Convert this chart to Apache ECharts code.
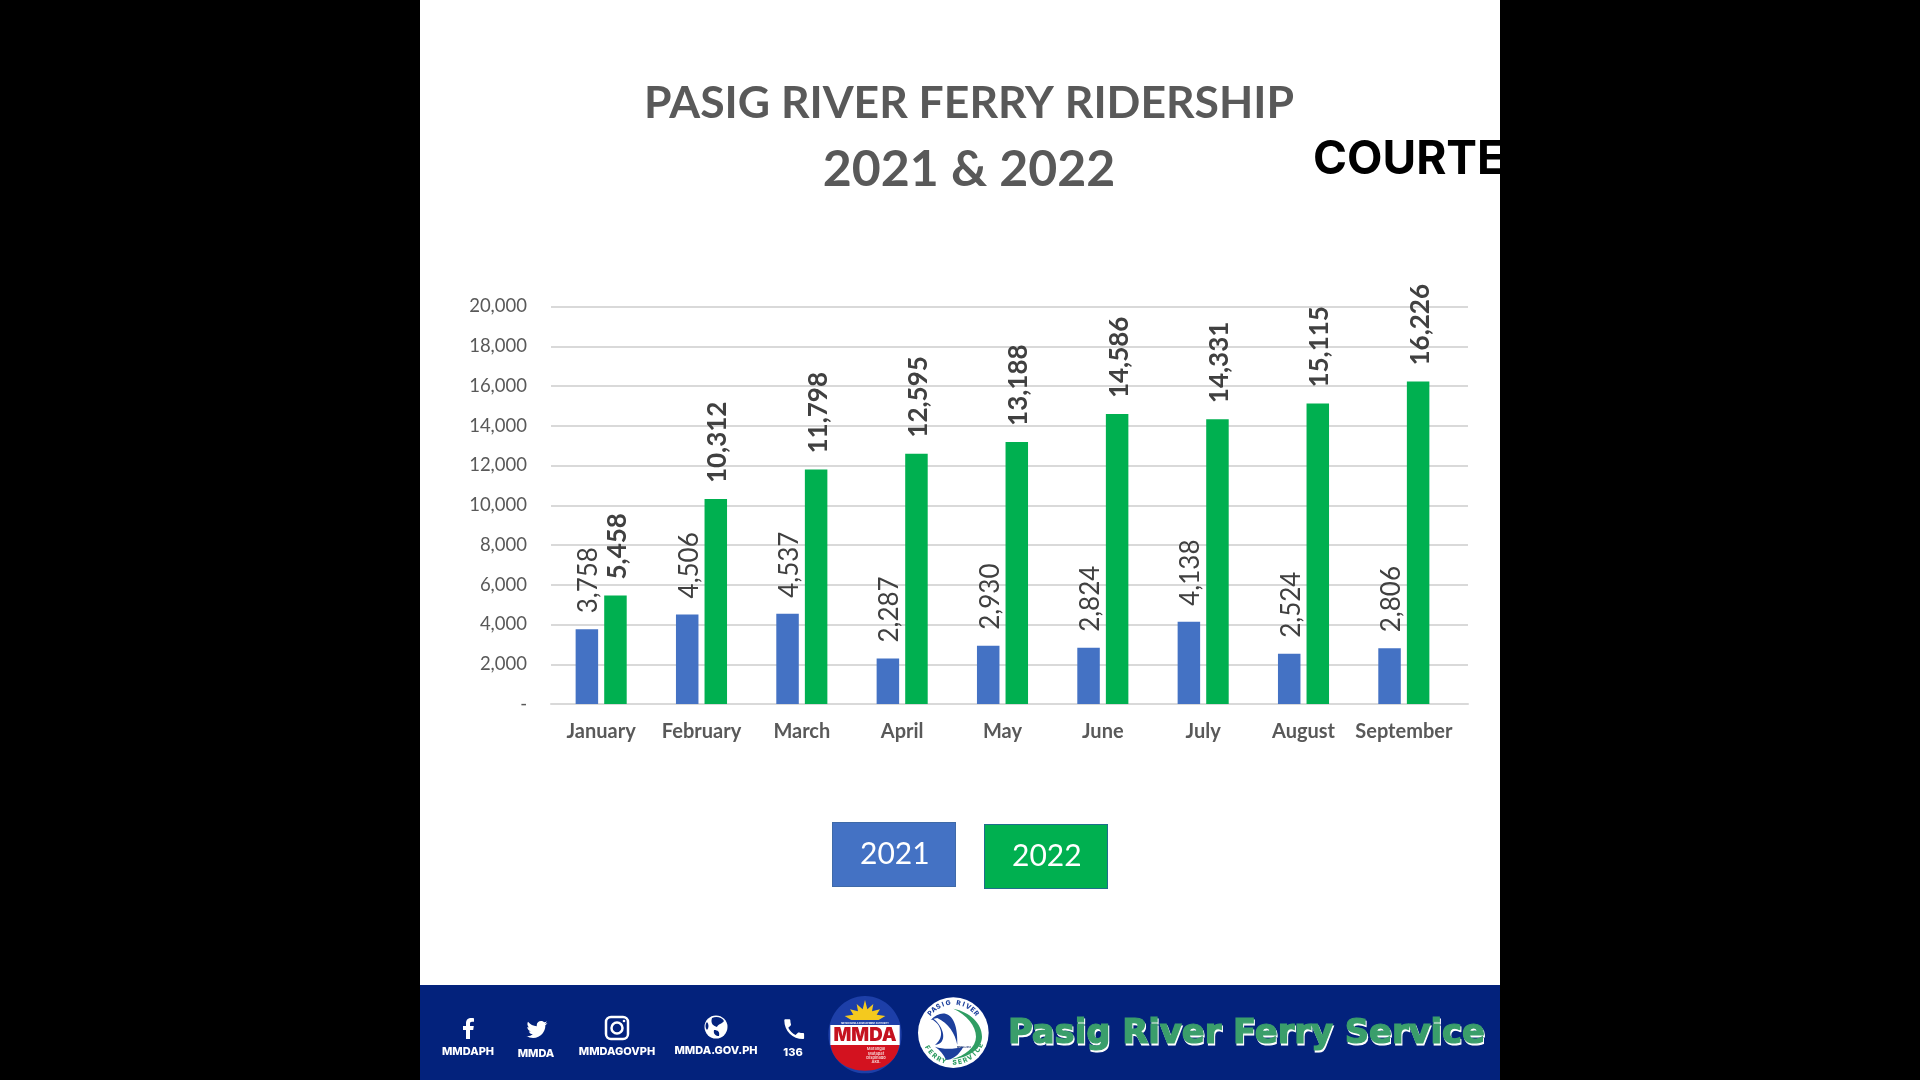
<!DOCTYPE html>
<html>
<head>
<meta charset="utf-8">
<title>Pasig River Ferry Ridership</title>
<script src="https://cdn.jsdelivr.net/npm/echarts@6/dist/echarts.min.js"></script>
<style>
html,body{margin:0;padding:0;width:1920px;height:1080px;background:#000;overflow:hidden}
#chart{position:absolute;left:420px;top:0;width:1080px;height:1080px;overflow:hidden;background:#fff}
</style>
</head>
<body>
<div id="chart"></div>
<script>
const months = ['January','February','March','April','May','June','July','August','September'];
const riders2021 = [3758,4506,4537,2287,2930,2824,4138,2524,2806];
const riders2022 = [5458,10312,11798,12595,13188,14586,14331,15115,16226];
const seriesNames = ['2021','2022'];
const footerLabels = ['MMDAPH','MMDA','MMDAGOVPH','MMDA.GOV.PH','136'];

const BLUE='#4472C4', GREEN='#00B050', GREY='#595959', NAVY='#03227C', FONT='Lato, Carlito, sans-serif';
const numFmt = v => v === 0 ? '-' : v.toLocaleString('en-US');

let shapeCount=0;
function pathEl(d,x,y,sx,sy,style){
  const name='decor'+(shapeCount++);
  echarts.graphic.registerShape(name,echarts.graphic.extendPath(d,{}));
  return {type:name,x:x,y:y,scaleX:sx,scaleY:sy,silent:true,style:style};
}
function barLabel(weight){
  return {show:true,position:'top',rotate:90,align:'left',verticalAlign:'middle',distance:16,offset:[0,2],
    formatter:p=>numFmt(p.value),fontFamily:FONT,fontSize:26,fontWeight:weight,color:'#404040'};
}
function legendBox(name,left,top,fill,border,lh){
  return {show:true,left:left-5,top:top,padding:0,itemWidth:0,itemHeight:0,icon:'none',selectedMode:false,
    data:[{name:name,icon:'none'}],
    textStyle:{color:'#fff',fontFamily:FONT,fontSize:30,width:95,height:59,lineHeight:lh,align:'left',
      verticalAlign:'middle',backgroundColor:fill,borderColor:border,borderWidth:1,padding:[0,0,4,27]}};
}
function foot(text,cx,cy){
  return {type:'text',x:cx-420,y:cy,silent:true,style:{text:text,fill:'#fff',font:'800 11px Inter, sans-serif',align:'center',verticalAlign:'middle'}};
}
const pathTwitter='M22.46 6c-.77.35-1.6.58-2.46.69.88-.53 1.56-1.37 1.88-2.38-.83.5-1.75.85-2.72 1.05C18.37 4.5 17.26 4 16 4c-2.35 0-4.27 1.92-4.27 4.29 0 .34.04.67.11.98C8.28 9.09 5.11 7.38 3 4.79c-.37.63-.58 1.37-.58 2.15 0 1.49.75 2.81 1.91 3.56-.71 0-1.37-.2-2-.5v.03c0 2.08 1.48 3.82 3.44 4.21a4.22 4.22 0 0 1-1.93.07 4.28 4.28 0 0 0 4 2.98 8.521 8.521 0 0 1-5.33 1.84c-.34 0-.68-.02-1.02-.06C3.44 20.29 5.7 21 8.12 21 16 21 20.33 14.46 20.33 8.79c0-.19 0-.37-.01-.56.84-.6 1.56-1.36 2.14-2.23z';
const pathPhone='M6.62 10.79c1.44 2.83 3.76 5.14 6.59 6.59l2.2-2.2c.27-.27.67-.36 1.02-.24 1.12.37 2.33.57 3.57.57.55 0 1 .45 1 1V20c0 .55-.45 1-1 1-9.39 0-17-7.61-17-17 0-.55.45-1 1-1h3.5c.55 0 1 .45 1 1 0 1.25.2 2.45.57 3.57.11.35.03.74-.25 1.02l-2.2 2.2z';
const pathF='M14 23v-9h3.2l.6-4H14V7.6c0-1.1.4-1.9 2-1.9h2V2.2C17.6 2.1 16.4 2 15.2 2 12.1 2 10 3.900 10 7.200V10H7v4h3v9z';
const pathContinents='M-4,-9 C0,-11 6,-10 8,-6 C6,-3 2,-3 1,0 C-2,-1 -6,-3 -4,-9 Z M-2,3 C2,3 4,5 3,9 C0,9 -3,7 -2,3 Z M-9,-5 C-7,-3 -7,1 -9,3 C-11,1 -11,-3 -9,-5 Z';

// Logos are drawn in a 3x local space so their details are easy to place.
function logos(){
  const kids=[
    {type:'ellipse',shape:{cx:135,cy:134,rx:110,ry:116},style:{fill:'#1D3FA8'}},
    pathEl('M32,165 L238,165 C232,212 190,242 135,242 C80,242 38,212 32,165 Z',0,0,1,1,{fill:'#D3121F'}),
    {type:'rect',shape:{x:31,y:105,width:208,height:60},style:{fill:'#fff'}},
    pathEl('M135,30 L142,58 L160,42 L156,64 L180,58 L170,74 L196,78 L176,90 L94,90 L74,78 L100,74 L90,58 L114,64 L110,42 L128,58 Z',0,0,1,1,{fill:'#F4C91E'}),
    {type:'text',x:135,y:99,style:{text:'METRO MANILA DEVELOPMENT AUTHORITY',fill:'#fff',font:'700 6.500px Inter, sans-serif',align:'center',verticalAlign:'middle'}},
    {type:'text',x:135,y:137,style:{text:'MMDA',fill:'#C5121F',font:'900 56px Inter, sans-serif',align:'center',verticalAlign:'middle'}},
    {type:'text',x:168,y:197,style:{text:'Marangal\nMatapat\nDispinado\nAko.',fill:'#f4c9c9',font:'700 12px Inter, sans-serif',lineHeight:13,align:'center',verticalAlign:'middle'}},
    {type:'circle',shape:{cx:400,cy:128,r:106},style:{fill:'#fff'}},
    pathEl('M400,56 C450,66 486,100 486,140 C486,176 445,204 395,208 C436,196 468,172 468,140 C468,108 440,74 400,56 Z',0,0,1,1,{fill:'#2F9D63'}),
    pathEl('M332,90 C365,55 415,60 412,165 C405,130 385,100 352,84 C345,85 338,87 332,90 Z',0,0,1,1,{fill:'#1C3F9C'}),
    pathEl('M334,88 C362,100 378,140 345,165 C385,160 372,110 340,86 Z',0,0,1,1,{fill:'#1C3F9C'}),
    pathEl('M345,170 C370,178 400,178 430,170 C418,195 395,210 378,210 C372,195 360,180 345,170 Z',0,0,1,1,{fill:'#1C3F9C'}),
    {type:'text',x:432,y:172,style:{text:'MMDA 2018',fill:'#16306e',font:'700 7px Inter, sans-serif',align:'center',verticalAlign:'middle'}}
  ];
  const arc=(txt,startDeg,stepDeg,r,color,flip)=>{
    [...txt].forEach((ch,i)=>{
      const deg=startDeg+i*stepDeg, a=deg*Math.PI/180;
      kids.push({type:'text',x:400+r*Math.cos(a),y:128+r*Math.sin(a),rotation:flip?-(deg-90)*Math.PI/180:-(deg+90)*Math.PI/180,
        style:{text:ch,fill:color,font:'800 20px Inter, sans-serif',align:'center',verticalAlign:'middle'}});
    });
  };
  arc('PASIG RIVER',-140,10,90,'#1C3F9C',false);
  arc('FERRY SERVICE',150,-10.400,90,'#2F9D63',true);
  return {type:'group',x:400,y:990,scaleX:1/3,scaleY:1/3,silent:true,children:kids};
}

const wmFont='800 40px "DejaVu Sans", sans-serif';
const mctx=document.createElement('canvas').getContext('2d');
mctx.font=wmFont;
const wmScale=477/mctx.measureText('Pasig River Ferry Service').width;

const option={
  animation:false,
  backgroundColor:'#fff',
  title:[
    {text:'PASIG RIVER FERRY RIDERSHIP',left:549,top:81,textAlign:'center',padding:0,textStyle:{fontFamily:FONT,fontWeight:'bold',fontSize:44.500,color:GREY}},
    {text:'2021 & 2022',left:549,top:145,textAlign:'center',padding:0,textStyle:{fontFamily:FONT,fontWeight:'bold',fontSize:50,color:GREY}},
    {text:'COURTESY',left:893,top:137,padding:0,textStyle:{fontFamily:'Inter, sans-serif',fontWeight:'bold',fontSize:46,color:'#000'}}
  ],
  legend:[
    legendBox(seriesNames[0],413,822,BLUE,'#3F6AA8',52),
    legendBox(seriesNames[1],565,824,GREEN,'#1F6E8C',54)
  ],
  grid:[
    {left:131,top:306.5,width:903,height:397.5},
    {left:131,top:306.5,width:917,height:397.5}
  ],
  xAxis:[
    {type:'category',gridIndex:0,data:months,axisTick:{show:false},axisLine:{show:false},
     axisLabel:{fontFamily:FONT,fontSize:20,fontWeight:'bold',color:GREY,margin:18,interval:0}},
    {type:'category',gridIndex:1,data:[''],show:true,axisTick:{show:false},axisLabel:{show:false},
     axisLine:{show:true,lineStyle:{color:'#D9D9D9',width:2}}}
  ],
  yAxis:[
    {type:'value',gridIndex:0,min:0,max:20000,interval:2000,show:false,splitLine:{show:false}},
    {type:'value',gridIndex:1,min:0,max:20000,interval:2000,axisLine:{show:false},axisTick:{show:false},
     axisLabel:{formatter:numFmt,fontFamily:FONT,fontSize:18.500,color:GREY,margin:24},
     splitLine:{show:true,lineStyle:{color:'#D9D9D9',width:2}}}
  ],
  series:[
    {name:seriesNames[0],type:'bar',xAxisIndex:0,yAxisIndex:0,data:riders2021,barWidth:22.500,barGap:'27%',
     itemStyle:{color:BLUE},label:barLabel('normal')},
    {name:seriesNames[1],type:'bar',xAxisIndex:0,yAxisIndex:0,data:riders2022,barWidth:22.500,
     itemStyle:{color:GREEN},label:barLabel('bold')}
  ],
  graphic:{elements:[
    {type:'rect',silent:true,shape:{x:0,y:985,width:1080,height:95},style:{fill:NAVY}},
    foot(footerLabels[0],468,1052),
    foot(footerLabels[1],536,1054),
    foot(footerLabels[2],617,1052),
    foot(footerLabels[3],716,1051),
    foot(footerLabels[4],793,1053),
    pathEl(pathF,468-420-12,1016,1,1,{fill:'#fff'}),
    pathEl(pathTwitter,537-420-12,1017,1,1,{fill:'#fff'}),
    {type:'rect',silent:true,shape:{x:606-420,y:1017,width:22,height:22,r:5},style:{fill:'none',stroke:'#fff',lineWidth:2.500}},
    {type:'circle',silent:true,shape:{cx:617-420,cy:1028,r:5.500},style:{fill:'none',stroke:'#fff',lineWidth:2.500}},
    {type:'circle',silent:true,shape:{cx:624-420,cy:1021,r:1.300},style:{fill:'#fff'}},
    {type:'circle',silent:true,shape:{cx:716-420,cy:1027,r:11.500},style:{fill:'#fff'}},
    pathEl(pathContinents,716-420,1027,1,1,{fill:NAVY}),
    pathEl(pathPhone,793-420-12,1016,1.100,1.100,{fill:'#fff'}),
    logos(),
    {type:'text',silent:true,x:1009-420,y:1036,scaleX:wmScale,scaleY:0.82,style:{text:'Pasig River Ferry Service',fill:'#fff',stroke:'#fff',lineWidth:1.500,font:wmFont,align:'left',verticalAlign:'middle'}},
    {type:'text',silent:true,x:1008-420,y:1034,scaleX:wmScale,scaleY:0.82,style:{text:'Pasig River Ferry Service',fill:'#3A9E6B',stroke:'#3A9E6B',lineWidth:1.500,font:wmFont,align:'left',verticalAlign:'middle'}}
  ]}
};
const chart=echarts.init(document.getElementById('chart'),null,{renderer:'canvas',width:1080,height:1080});
chart.setOption(option);
</script>
</body>
</html>
